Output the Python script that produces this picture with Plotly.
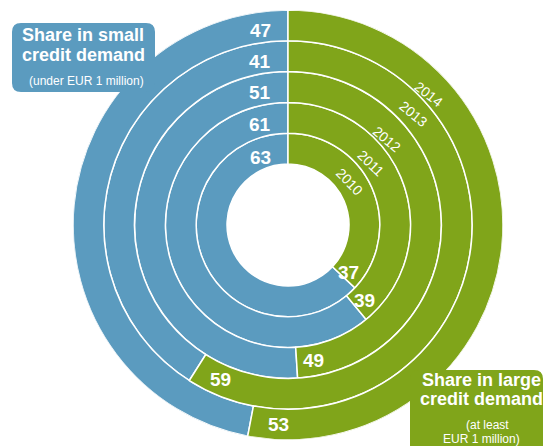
import math
import plotly.graph_objects as go

# Share of credit demand by loan size, one ring per year (innermost = 2010)
years = ["2010", "2011", "2012", "2013", "2014"]
small_share = [63, 61, 51, 41, 47]   # under EUR 1 million
large_share = [37, 39, 49, 59, 53]   # at least EUR 1 million

BLUE = "#5b9bbf"
GREEN = "#80a51a"
FONT = "Liberation Sans, Arial, sans-serif"

W, H = 543, 446
CX, CY = 288, 225          # ring centre in pixels (from top-left)
R_OUT, R_HOLE = 215, 61    # outer radius and hole radius in pixels
ring_w = (R_OUT - R_HOLE) / len(years)
inner = [R_HOLE + i * ring_w for i in range(len(years))]
mid = [b + ring_w / 2 for b in inner]

dom_x = [(CX - R_OUT) / W, (CX + R_OUT) / W]
dom_y = [(H - CY - R_OUT) / H, (H - CY + R_OUT) / H]

fig = go.Figure()

# small-credit share: runs anticlockwise from 12 o'clock
fig.add_trace(go.Barpolar(
    r=[ring_w] * len(years), base=inner,
    theta=[360 - s * 1.8 for s in small_share],
    width=[s * 3.6 for s in small_share],
    marker=dict(color=BLUE, line=dict(color="white", width=1.5)),
    hoverinfo="skip", showlegend=False,
))
# large-credit share: runs clockwise from 12 o'clock
fig.add_trace(go.Barpolar(
    r=[ring_w] * len(years), base=inner,
    theta=[s * 1.8 for s in large_share],
    width=[s * 3.6 for s in large_share],
    marker=dict(color=GREEN, line=dict(color="white", width=1.5)),
    hoverinfo="skip", showlegend=False,
))
# helper cartesian frame laid over the rings (1 unit = 1 pixel) for text
fig.add_trace(go.Scatter(x=[None], y=[None], mode="markers",
                         hoverinfo="skip", showlegend=False))

ann = []
num_font = dict(family=FONT, size=19, color="white")


def polar_xy(r, theta_deg):
    t = math.radians(theta_deg)
    return r * math.sin(t), r * math.cos(t)


# blue value labels just left of the 12 o'clock divider
for i, v in enumerate(small_share):
    r = mid[i] - 3
    th = 360 - math.degrees(math.asin(28 / r))
    x, y = polar_xy(r, th)
    ann.append(dict(x=x, y=y, xref="x", yref="y", text=f"<b>{v}</b>",
                    showarrow=False, font=num_font))

# green value labels near the end of each green arc
pull_deg = [5, 6, 7, 9, 8]
for i, v in enumerate(large_share):
    th = v * 3.6 - pull_deg[i]
    x, y = polar_xy(mid[i], th)
    ann.append(dict(x=x, y=y, xref="x", yref="y", text=f"<b>{v}</b>",
                    showarrow=False, font=num_font))

# year labels along the arcs
year_theta = [55, 53, 49, 48.5, 47]
year_depth = [0.47, 0.38, 0.26, 0.47, 0.25]   # fraction of ring width from inner edge
for i, yr in enumerate(years):
    x, y = polar_xy(inner[i] + ring_w * year_depth[i], year_theta[i])
    ann.append(dict(x=x, y=y, xref="x", yref="y", text=yr,
                    textangle=year_theta[i] - 9, showarrow=False,
                    font=dict(family=FONT, size=14, color="white")))


def px_ann(px, py, text, size, bold=False):
    return dict(x=px / W, y=1 - py / H, xref="paper", yref="paper",
                text=f"<b>{text}</b>" if bold else text, showarrow=False,
                xanchor="center", yanchor="middle",
                font=dict(family=FONT, size=size, color="white"))


ann += [
    px_ann(83, 35, "Share in small", 18, True),
    px_ann(83, 55, "credit demand", 18, True),
    px_ann(86, 81, "(under EUR 1 million)", 12),
    px_ann(481, 380, "Share in large", 18, True),
    px_ann(481, 399, "credit demand", 18, True),
    px_ann(487, 425, "(at least", 12),
    px_ann(481, 439, "EUR 1 million)", 12),
]


def rounded_box(x0, y0, x1, y1, rad):
    X = lambda v: v / W
    Y = lambda v: 1 - v / H
    return (
        f"M {X(x0 + rad)},{Y(y0)} L {X(x1 - rad)},{Y(y0)} "
        f"Q {X(x1)},{Y(y0)} {X(x1)},{Y(y0 + rad)} "
        f"L {X(x1)},{Y(y1 - rad)} Q {X(x1)},{Y(y1)} {X(x1 - rad)},{Y(y1)} "
        f"L {X(x0 + rad)},{Y(y1)} Q {X(x0)},{Y(y1)} {X(x0)},{Y(y1 - rad)} "
        f"L {X(x0)},{Y(y0 + rad)} Q {X(x0)},{Y(y0)} {X(x0 + rad)},{Y(y0)} Z"
    )


shapes = [
    dict(type="path", xref="paper", yref="paper", layer="above",
         path=rounded_box(12, 23, 155, 92, 9), fillcolor=BLUE, line=dict(width=0)),
    dict(type="path", xref="paper", yref="paper", layer="above",
         path=rounded_box(410, 370, 543, 455, 9), fillcolor=GREEN, line=dict(width=0)),
]

fig.update_layout(
    width=W, height=H,
    margin=dict(l=0, r=0, t=0, b=0),
    paper_bgcolor="white", plot_bgcolor="rgba(0,0,0,0)",
    showlegend=False,
    polar=dict(
        domain=dict(x=dom_x, y=dom_y),
        bgcolor="rgba(0,0,0,0)",
        radialaxis=dict(range=[0, R_OUT], visible=False),
        angularaxis=dict(rotation=90, direction="clockwise", visible=False),
    ),
    xaxis=dict(domain=dom_x, range=[-R_OUT, R_OUT], visible=False, fixedrange=True),
    yaxis=dict(domain=dom_y, range=[-R_OUT, R_OUT], visible=False, fixedrange=True),
    annotations=ann,
    shapes=shapes,
)

fig.write_html("out.html")
